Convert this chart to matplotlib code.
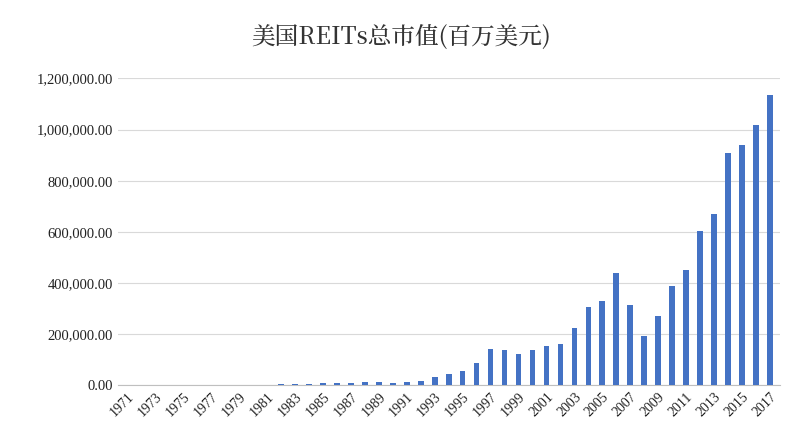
import matplotlib
matplotlib.use("Agg")
import matplotlib.pyplot as plt
from matplotlib import font_manager as fm
from matplotlib.ticker import FuncFormatter

years = list(range(1971, 2018))
values = [1494, 1881, 1394, 712, 900, 1308, 1528, 1412, 1754, 2299, 2439, 3299, 4257, 5085,
          7674, 9924, 9702, 11435, 11662, 8737, 12968, 15912, 32159, 44306, 57541, 88776,
          140534, 138301, 124262, 138715, 154899, 161937, 224212, 307895, 330691, 438071,
          312009, 191651, 271199, 389295, 450501, 603415, 670334, 907429, 938852, 1018730, 1133698]
title = "美国REITs总市值(百万美元)"

cjk = None
for f in fm.findSystemFonts():
    if "CJK" in f or "cjk" in f.lower():
        cjk = f
        if "Serif" in f:
            break
fp = fm.FontProperties(fname=cjk, size=17) if cjk else fm.FontProperties(family=["Noto Sans CJK SC", "Noto Sans CJK JP"], size=17)

fig = plt.figure(figsize=(8.02, 4.48), dpi=100)
ax = fig.add_axes([0.147, 0.14, 0.825, 0.685])
x = list(range(len(years)))
ax.bar(x, values, width=0.4, color="#4472C4", zorder=3)
ax.set_ylim(0, 1200000)
ax.set_xlim(-0.7, len(years) - 0.3)
ax.set_yticks(range(0, 1200001, 200000))
ax.yaxis.set_major_formatter(FuncFormatter(lambda v, p: f"{v:,.2f}"))
ax.grid(axis="y", color="#d9d9d9", linewidth=0.8, zorder=0)
for s in ["top", "right", "left"]:
    ax.spines[s].set_visible(False)
ax.spines["bottom"].set_color("#bfbfbf")
ax.set_xticks(x[::2])
ax.set_xticklabels([str(y) for y in years[::2]], rotation=45, ha="right", rotation_mode="anchor",
                   fontsize=10, family="Liberation Serif")
ax.tick_params(axis="both", length=0, colors="#222222")
for lbl in ax.get_yticklabels():
    lbl.set_family("Liberation Serif"); lbl.set_fontsize(10.5)
fig.text(0.5, 0.915, title, ha="center", va="center", fontproperties=fp, color="#333333")
fig.savefig("out.png", dpi=100)
